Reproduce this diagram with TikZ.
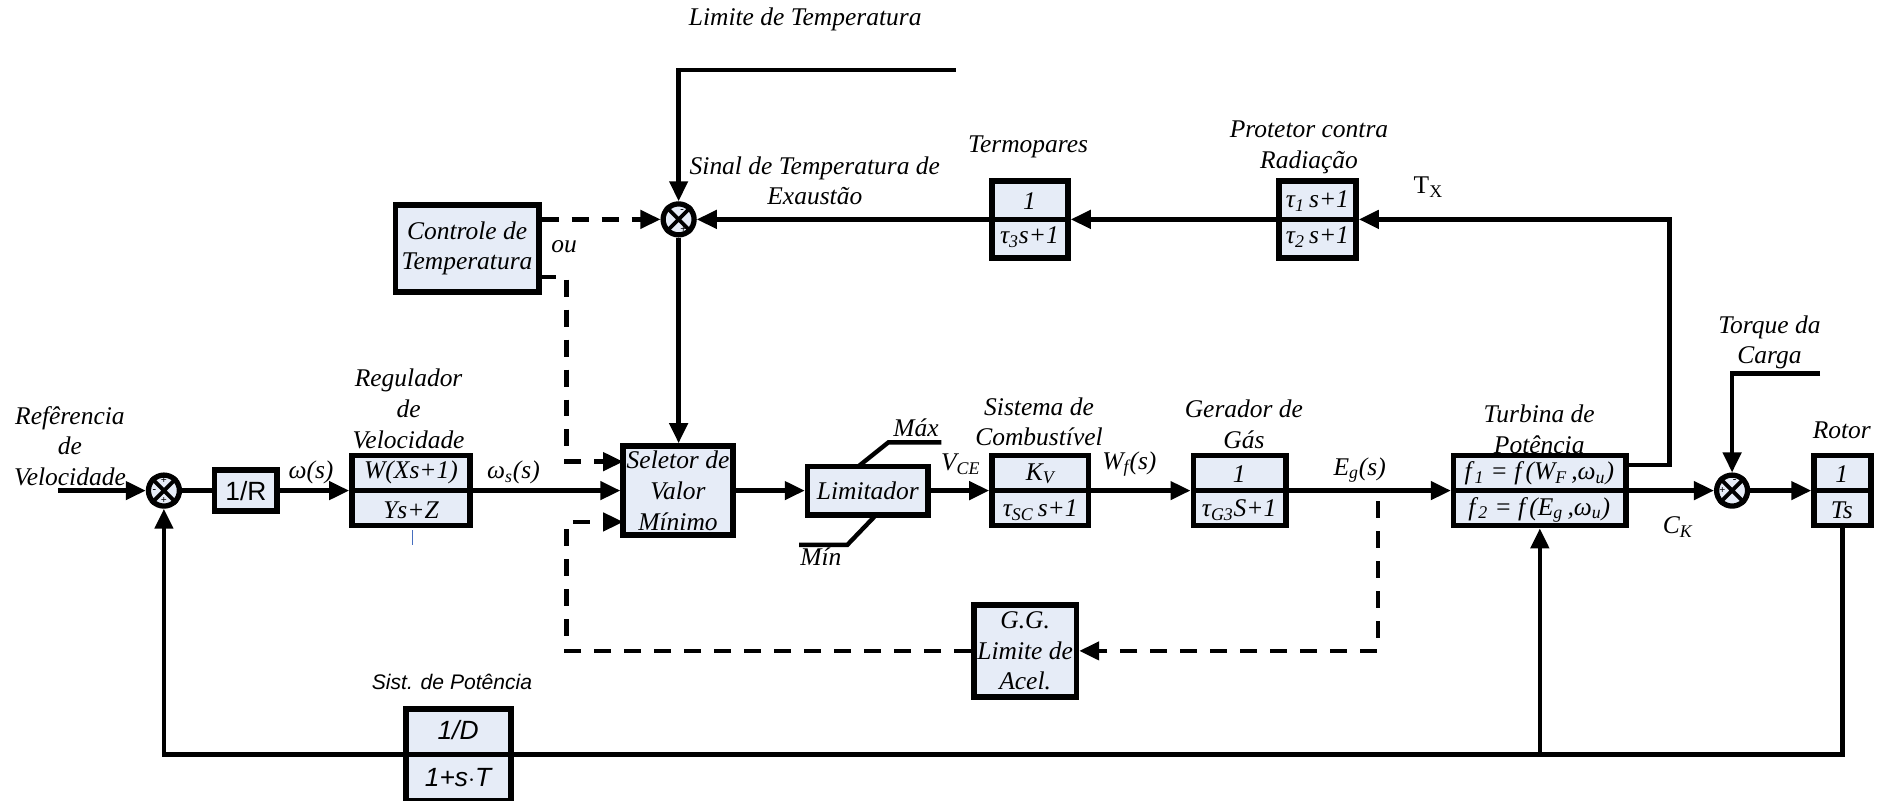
\documentclass[tikz,border=0pt]{standalone}
\usepackage{fontspec}
\setmainfont{Liberation Serif}
\setsansfont{Liberation Sans}
\usepackage{tikz}
\usetikzlibrary{arrows.meta,fit}
\definecolor{boxblue}{RGB}{230,236,247}
\definecolor{tickblue}{RGB}{70,110,190}
\tikzset{
  sig/.style={line width=2.5pt},
  sigarr/.style={sig, -{Triangle[length=4mm,width=3.6mm]}},
  dsh/.style={line width=2.5pt, dash pattern=on 3.4mm off 2.6mm},
  dsharr/.style={dsh, -{Triangle[length=4mm,width=3.6mm]}},
  blk/.style={draw, line width=3.2pt, fill=boxblue, inner sep=0pt},
  sumj/.style={circle, draw, line width=3pt, fill=boxblue, minimum size=6.2mm, inner sep=0pt},
  bar/.style={line width=2.6pt},
  txt/.style={font=\fontsize{14.5}{17.5}\selectfont\itshape, align=center, inner sep=0pt},
  sftxt/.style={font=\fontsize{15}{17}\selectfont\sffamily, inner sep=0pt},
  sgn/.style={font=\fontsize{6}{6}\selectfont\bfseries, inner sep=0pt},
}

\begin{document}
\begin{tikzpicture}[x=0.2411mm,y=-0.2411mm]
\useasboundingbox (0,0) rectangle (1568,664);
%---------------- blocks ----------------
  \node[sumj] (s1) at (136,407) {};
  \node[sumj] (s2) at (563,182) {};
  \node[sumj] (s3) at (1437,407) {};
  \foreach \s in {s1,s2,s3}
    \draw[line width=2.2pt] (\s.45) -- (\s.225) (\s.135) -- (\s.315);
  \node[sgn] (s1a) at (136,399) {+};
  \node[sgn] (s1b) at (128,407) {-};
  \node[sgn] (s1c) at (136,415) {+};
  \node[sgn] (s2a) at (566,175) {-};
  \node[sgn] (s2b) at (567,190) {+};
  \node[sgn] (s3a) at (1439,399) {-};
  \node[sgn] (s3b) at (1429,407) {+};

  \node[blk, fit={(178,390) (230,424)}] (r) {};
  \node[blk, fit={(292,378) (390,436)}] (w) {};
  \node[blk, fit={(328,170) (447,242)}] (ct) {};
  \node[blk, fit={(517,370) (608,444)}] (sel) {};
  \node[blk, fit={(670,387) (770,427)}] (lim) {};
  \node[blk, fit={(823,378) (903,436)}] (kv) {};
  \node[blk, fit={(990,378) (1067,436)}] (gas) {};
  \node[blk, fit={(808,502) (893,578)}] (acc) {};
  \node[blk, fit={(1206,378) (1349,436)}] (tb) {};
  \node[blk, fit={(1505,378) (1552,436)}] (rt) {};
  \node[blk, fit={(823,150) (886,214)}] (tp) {};
  \node[blk, fit={(1061,150) (1125,214)}] (pr) {};
  \node[blk, fit={(337,588) (424,664)}] (pd) {};

  % fraction bars
  \foreach \b in {w,kv,gas,tb,rt,tp,pr,pd}
    \draw[bar] ([xshift=3pt]\b.west) -- ([xshift=-3pt]\b.east);

%---------------- block texts ----------------
  \node[sftxt] (rtx) at (r.center) {1/R};
  \node[txt] (wn) at (341,392) {W(Xs+1)};
  \node[txt] (wd) at (341,423) {Ys+Z};
  \draw[tickblue, line width=0.5pt] (342,440) -- (342,452);
  \node[txt] (cttx) at (ct.center) {Controle de\\Temperatura};
  \node[txt] (seltx) at (sel.center) {Seletor de\\Valor\\Mínimo};
  \node[txt] (limtx) at (lim.center) {Limitador};
  \node[txt] (kvn) at (863,393) {K\textsubscript{V}};
  \node[txt] (kvd) at (863,423) {τ\textsubscript{SC}\,s+1};
  \node[txt] (gasn) at (1028,393) {1};
  \node[txt] (gasd) at (1028,423) {τ\textsubscript{G3}S+1};
  \node[txt] (acctx) at (acc.center) {G.G.\\Limite de\\Acel.};
  \node[txt] (tbn) at (1277,393) {f\textsubscript{\,1} = f\,(W\textsubscript{F}\,,ω\textsubscript{u})};
  \node[txt] (tbd) at (1277,423) {f\textsubscript{\,2} = f\,(E\textsubscript{g}\,,ω\textsubscript{u})};
  \node[txt] (rtn) at (1528,393) {1};
  \node[txt] (rtd) at (1528,423) {Ts};
  \node[txt] (tpn) at (854,167) {1};
  \node[txt] (tpd) at (854,197) {τ\textsubscript{3}s+1};
  \node[txt] (prn) at (1093,167) {τ\textsubscript{1}\,s+1};
  \node[txt] (prd) at (1093,197) {τ\textsubscript{2}\,s+1};
  \node[sftxt, font=\fontsize{15}{17}\selectfont\sffamily\itshape] (pdn) at (380,606) {1/D};
  \node[sftxt, font=\fontsize{15}{17}\selectfont\sffamily\itshape] (pdd) at (380,645) {1+s$\cdot$T};

%---------------- labels ----------------
  \node[txt] (lref) at (58,370) {Refêrencia\\de\\Velocidade};
  \node[txt] (lreg) at (339,339) {Regulador\\de\\Velocidade};
  \node[txt] (lom) at (258,392) {ω(s)};
  \node[txt] (loms) at (426,392) {ω\textsubscript{s}(s)};
  \node[txt] (llim) at (668,16) {Limite de Temperatura};
  \node[txt] (lsin) at (676,150) {Sinal de Temperatura de\\Exaustão};
  \node[txt] (ltp) at (853,122) {Termopares};
  \node[txt] (lpr) at (1086,122) {Protetor contra\\Radiação};
  \node[font=\fontsize{14.5}{17}\selectfont, inner sep=0pt] (ltx) at (1185,155) {T\textsubscript{X}};
  \node[txt] (lou) at (468,205) {ou};
  \node[txt] (lmax) at (760,355) {Máx};
  \node[txt] (lmin) at (681,462) {Mín};
  \node[txt] (lvce) at (797,385) {V\textsubscript{CE}};
  \node[txt] (lsc) at (862,350) {Sistema de\\Combustível};
  \node[txt] (lwf) at (937,385) {W\textsubscript{f}(s)};
  \node[txt] (lgas) at (1032,352) {Gerador de\\Gás};
  \node[txt] (leg) at (1128,390) {E\textsubscript{g}(s)};
  \node[txt] (ltb) at (1277,356) {Turbina de\\Potência};
  \node[txt] (ltq) at (1468,284) {Torque da\\Carga};
  \node[txt] (lrt) at (1528,357) {Rotor};
  \node[txt] (lck) at (1392,437) {C\textsubscript{K}};
  \node[font=\fontsize{12}{14}\selectfont\sffamily\itshape, inner sep=0pt] (lsp) at (375,566) {Sist. de Potência};

%---------------- connectors ----------------
  \coordinate (refin) at (48,407);
  \coordinate (limin) at (793,58);
  \coordinate (ctlo) at (447,230);
  \coordinate (selhi) at (517,383);
  \coordinate (sello) at (517,433);
  \coordinate (tbhi) at (1349,386);
  \coordinate (egtap) at (1143,416);
  \coordinate (tqin) at (1510,310);

  \draw[sigarr] (refin) -- (s1.west);
  \draw[sig] (s1.east) -- (r.west);
  \draw[sigarr] (r.east) -- (w.west);
  \draw[sigarr] (w.east) -- (sel.west);
  \draw[sigarr] (limin) -| (s2.north);
  \draw[sigarr] (s2.south) -- (s2.south |- sel.north);
  \draw[dsharr] (ct.east |- s2.west) -- (s2.west);
  \draw[dsharr] (ctlo) -- (470,230) |- (selhi);
  \draw[sigarr] (tp.west) -- (s2.east);
  \draw[sigarr] (pr.west) -- (tp.east);
  \draw[sigarr] (tbhi) -- ++(36,0) |- (pr.east);
  \draw[sigarr] (sel.east) -- (lim.west);
  \draw[sig] (712,387) -- (737,367) -- (781,367);
  \draw[sig] (727,427) -- (703,452) -- (663,452);
  \draw[sigarr] (lim.east) -- (kv.west);
  \draw[sigarr] (kv.east) -- (gas.west);
  \draw[sigarr] (gas.east) -- (tb.west);
  \draw[dsharr] (egtap) |- (acc.east);
  \draw[dsharr] (acc.west) -| (470,433) -- (sello);
  \draw[sigarr] (tb.east) -- (s3.west);
  \draw[sigarr] (tqin) -| (s3.north);
  \draw[sigarr] (s3.east) -- (rt.west);
  \draw[sig] (rt.south) |- (pd.east);
  \draw[sigarr] (tb.south |- pd.east) -- (tb.south);
  \draw[sigarr] (pd.west) -| (s1.south);
\end{tikzpicture}
\end{document}
